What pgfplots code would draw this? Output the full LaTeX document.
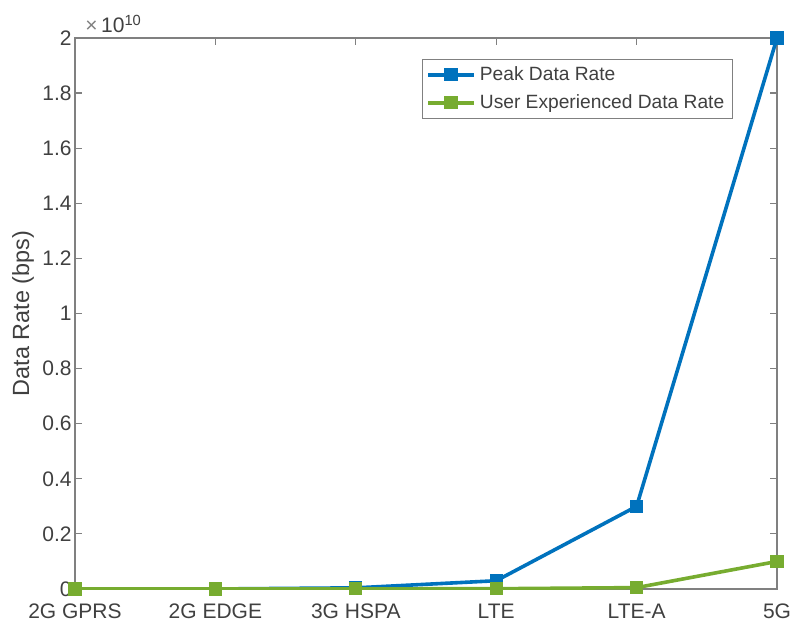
\documentclass[border=0pt]{standalone}
\usepackage{pgfplots}
\pgfplotsset{compat=1.18}
\usepackage{fontspec}
\setmainfont{Liberation Sans}

\definecolor{mblue}{RGB}{0,114,189}
\definecolor{mgreen}{RGB}{119,172,48}
\definecolor{axgray}{RGB}{128,128,128}
\definecolor{txtgray}{RGB}{64,64,64}

\begin{document}
\begin{tikzpicture}
\begin{axis}[
  scale only axis,
  width=351pt, height=275.5pt,
  xmin=1, xmax=6, ymin=0, ymax=2e10,
  xtick={1,2,3,4,5,6},
  xticklabels={2G GPRS,2G EDGE,3G HSPA,LTE,LTE-A,5G},
  ytick={0,2e9,4e9,6e9,8e9,1e10,1.2e10,1.4e10,1.6e10,1.8e10,2e10},
  yticklabels={0,0.2,0.4,0.6,0.8,1,1.2,1.4,1.6,1.8,2},
  scaled y ticks=false,
  tick align=inside,
  xtick pos=both, ytick pos=both,
  major tick length=3.5pt,
  axis line style={axgray, line width=0.6pt},
  every tick/.style={axgray, line width=0.6pt},
  tick label style={font=\fontsize{10.5}{12}\selectfont, text=txtgray},
  xticklabel style={yshift=-4pt},
  yticklabel style={inner xsep=1.5pt},
  ylabel={Data Rate (bps)},
  ylabel style={at={(axis description cs:-0.074,0.5)}, anchor=center,
    font=\fontsize{11.7}{13}\selectfont, text=txtgray},
  legend style={at={(rel axis cs:0.937,0.962)}, anchor=north east,
    draw=axgray, line width=0.5pt, fill=white,
    font=\fontsize{9.6}{11.5}\selectfont, text=txtgray,
    inner xsep=2pt, inner ysep=1.5pt, row sep=1.5pt},
  legend cell align=left,
  legend image code/.code={%
    \draw[mark repeat=2, mark phase=2] plot coordinates {(0pt,0pt) (11.5pt,0pt) (23pt,0pt)};},
]
\coordinate (sw) at (rel axis cs:0,0);
\coordinate (nw) at (rel axis cs:0,1);
\coordinate (ne) at (rel axis cs:1,1);

\addplot[mblue, line width=1.8pt, mark=square*, mark size=2.9pt,
  mark options={line width=0.8pt}]
  coordinates {(1,1.71e5) (2,4.736e5) (3,4.2e7) (4,3e8) (5,3e9) (6,2e10)};
\addlegendentry{Peak Data Rate}

\addplot[mgreen, line width=1.8pt, mark=square*, mark size=2.9pt,
  mark options={line width=0.8pt}]
  coordinates {(1,2e4) (2,1e5) (3,5e6) (4,1e7) (5,5e7) (6,1e9)};
\addlegendentry{User Experienced Data Rate}
\end{axis}
% exponent of the y scale, above the top-left corner
\node[anchor=base west, inner sep=0pt, xshift=5pt, yshift=2.5pt,
  font=\fontsize{10.5}{12}\selectfont, text=txtgray]
  at (nw) {{\color{axgray}×}\,10\textsuperscript{10}};
\pgfresetboundingbox
\path[use as bounding box] ([shift={(-37.5pt,-18pt)}]sw) rectangle ([shift={(7pt,19pt)}]ne);
\end{tikzpicture}
\end{document}
